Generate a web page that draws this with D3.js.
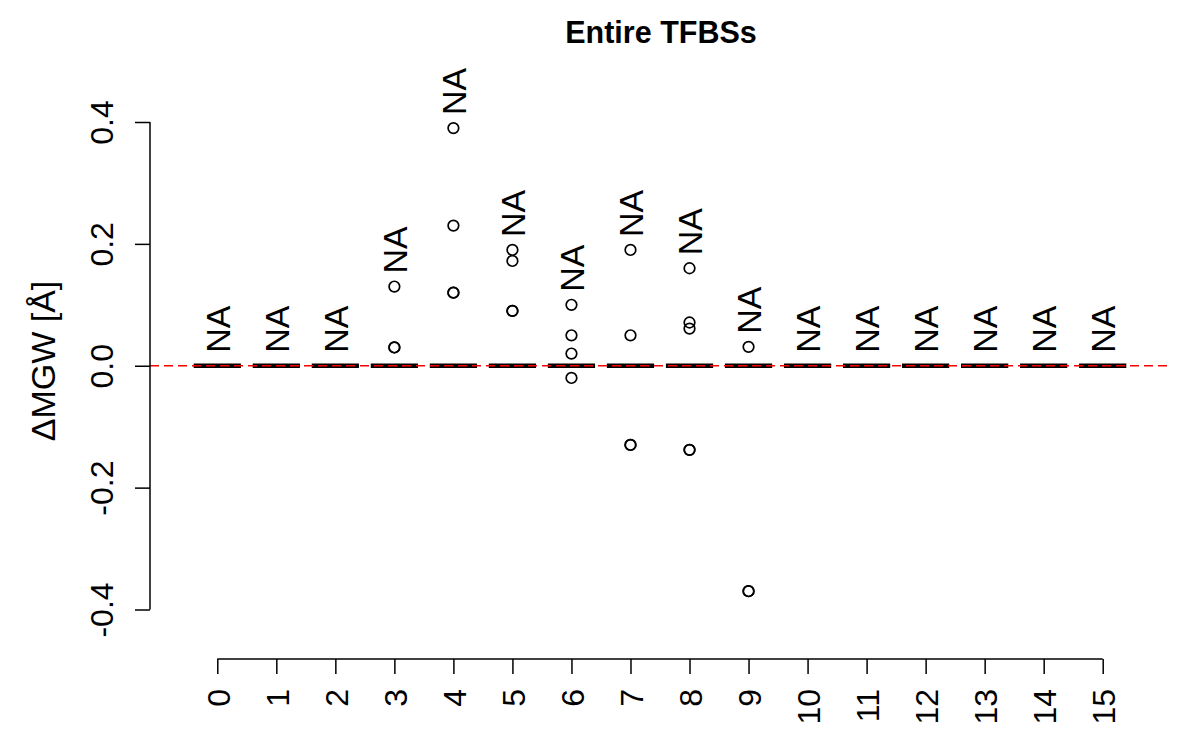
<!DOCTYPE html>
<html>
<head>
<meta charset="utf-8">
<script src="https://cdn.jsdelivr.net/npm/d3@7"></script>
<style>
  html, body { margin: 0; padding: 0; background: #fff; }
  text { font-family: "Liberation Sans", Arial, Helvetica, sans-serif; fill: #000; }
</style>
</head>
<body>
<svg id="chart" width="1200" height="750"></svg>
<script>
// ---- data ----
const categories = ["0","1","2","3","4","5","6","7","8","9","10","11","12","13","14","15"];
const q1Values     = [0,0,0,0,0,0,0,0,0,0,0,0,0,0,0,0];
const medianValues = [0,0,0,0,0,0,0,0,0,0,0,0,0,0,0,0];
const q3Values     = [0,0,0,0,0,0,0,0,0,0,0,0,0,0,0,0];
const whiskerLow   = [0,0,0,0,0,0,0,0,0,0,0,0,0,0,0,0];
const whiskerHigh  = [0,0,0,0,0,0,0,0,0,0,0,0,0,0,0,0];
const outliers = [
  [], [], [],
  [0.13, 0.03, 0.03],
  [0.39, 0.23, 0.12, 0.12],
  [0.19, 0.172, 0.09, 0.09],
  [0.10, 0.05, 0.02, -0.02],
  [0.19, 0.05, -0.13, -0.13],
  [0.16, 0.071, 0.061, -0.138, -0.138],
  [0.031, -0.37, -0.37],
  [], [], [], [], [], []
];
const pLabels = ["NA","NA","NA","NA","NA","NA","NA","NA","NA","NA","NA","NA","NA","NA","NA","NA"];
const yTicks = [-0.4, -0.2, 0.0, 0.2, 0.4];
const yTickLabels = ["-0.4", "-0.2", "0.0", "0.2", "0.4"];
const title = "Entire TFBSs";
const yLabel = "\u0394MGW [\u00C5]";
const refLine = 0;

// ---- layout ----
const svg = d3.select("#chart");
const plotLeft = 150, plotRight = 1170;
const x = d3.scaleLinear().domain([-0.14, 17.14]).range([plotLeft, plotRight]);
const y = d3.scaleLinear().domain([-0.4, 0.4]).range([609.5, 122]);
const pos = i => i + 1;
const boxHalf = 0.4;

// boxes
const g = svg.append("g");
categories.forEach((c, i) => {
  const cx = x(pos(i));
  const bx0 = x(pos(i) - boxHalf), bx1 = x(pos(i) + boxHalf);
  const sx0 = x(pos(i) - boxHalf / 2), sx1 = x(pos(i) + boxHalf / 2);
  // whiskers
  g.append("line").attr("x1", cx).attr("x2", cx).attr("y1", y(q3Values[i])).attr("y2", y(whiskerHigh[i]))
    .attr("stroke", "#000").attr("stroke-width", 1.5).attr("stroke-dasharray", "6,6");
  g.append("line").attr("x1", cx).attr("x2", cx).attr("y1", y(q1Values[i])).attr("y2", y(whiskerLow[i]))
    .attr("stroke", "#000").attr("stroke-width", 1.5).attr("stroke-dasharray", "6,6");
  g.append("line").attr("x1", sx0).attr("x2", sx1).attr("y1", y(whiskerHigh[i])).attr("y2", y(whiskerHigh[i]))
    .attr("stroke", "#000").attr("stroke-width", 1.5);
  g.append("line").attr("x1", sx0).attr("x2", sx1).attr("y1", y(whiskerLow[i])).attr("y2", y(whiskerLow[i]))
    .attr("stroke", "#000").attr("stroke-width", 1.5);
  // box
  g.append("rect").attr("x", bx0).attr("y", y(q3Values[i]))
    .attr("width", bx1 - bx0).attr("height", Math.max(0, y(q1Values[i]) - y(q3Values[i])))
    .attr("fill", "none").attr("stroke", "#000").attr("stroke-width", 1.5);
  // median
  g.append("line").attr("x1", bx0).attr("x2", bx1).attr("y1", y(medianValues[i])).attr("y2", y(medianValues[i]))
    .attr("stroke", "#000").attr("stroke-width", 4.5);
  // outliers
  g.selectAll(null).data(outliers[i]).enter().append("circle")
    .attr("cx", cx).attr("cy", d => y(d)).attr("r", 5.3)
    .attr("fill", "none").attr("stroke", "#000").attr("stroke-width", 1.7);
  // label
  const top = Math.max(whiskerHigh[i], ...outliers[i], 0);
  g.append("text")
    .attr("transform", `translate(${cx},${y(top) - 13}) rotate(-90)`)
    .attr("dy", "0.36em")
    .attr("font-size", 34)
    .attr("text-anchor", "start")
    .text(pLabels[i]);
});

// reference line
svg.append("line").attr("x1", plotLeft).attr("x2", plotRight).attr("y1", y(refLine)).attr("y2", y(refLine))
  .attr("stroke", "#ff0000").attr("stroke-width", 1.6).attr("stroke-dasharray", "9,5");

// y axis
const yAxisG = svg.append("g").attr("transform", `translate(${plotLeft},0)`);
yAxisG.call(d3.axisLeft(y).tickValues(yTicks).tickSize(15).tickFormat((d, i) => yTickLabels[i]));
yAxisG.select(".domain").attr("d", `M0,${y(yTicks[0])}H0V${y(yTicks[yTicks.length-1])}`)
  .attr("stroke", "#000").attr("stroke-width", 1.5);
yAxisG.selectAll(".tick line").attr("stroke", "#000").attr("stroke-width", 1.5);
yAxisG.selectAll(".tick text")
  .attr("x", null).attr("dy", null)
  .attr("transform", "translate(-37,0) rotate(-90)")
  .attr("text-anchor", "middle")
  .attr("font-size", 32)
  .attr("font-family", "Liberation Sans, Arial, sans-serif");

// x axis
const xAxisY = 659;
const xAxisG = svg.append("g").attr("transform", `translate(0,${xAxisY})`);
xAxisG.call(d3.axisBottom(x).tickValues(categories.map((c, i) => pos(i))).tickSize(15)
  .tickFormat((d, i) => categories[i]));
xAxisG.select(".domain").attr("d", `M${x(pos(0))},0H${x(pos(categories.length - 1))}`)
  .attr("stroke", "#000").attr("stroke-width", 1.5);
xAxisG.selectAll(".tick line").attr("stroke", "#000").attr("stroke-width", 1.5);
xAxisG.selectAll(".tick text")
  .attr("y", null).attr("dy", null)
  .attr("transform", "translate(12,30) rotate(-90)")
  .attr("text-anchor", "end")
  .attr("font-size", 32)
  .attr("font-family", "Liberation Sans, Arial, sans-serif");

// title
svg.append("text").attr("x", 661).attr("y", 43).attr("text-anchor", "middle")
  .attr("font-size", 30.5).attr("font-weight", "bold").text(title);

// y label
svg.append("text").attr("transform", "translate(55,361) rotate(-90)")
  .attr("text-anchor", "middle").attr("font-size", 34).text(yLabel);
</script>
</body>
</html>
